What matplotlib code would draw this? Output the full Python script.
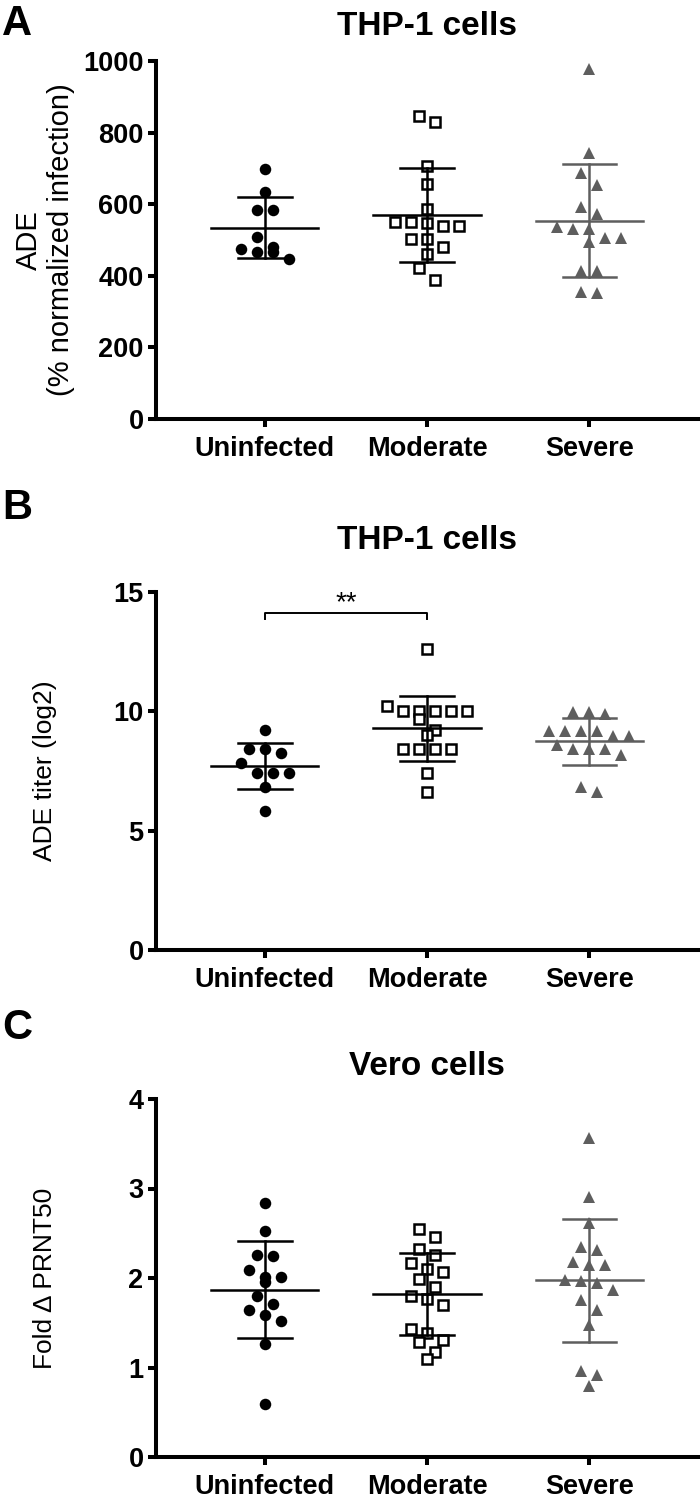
import numpy as np
import matplotlib
matplotlib.use('Agg')
import matplotlib.pyplot as plt

plt.rcParams['font.family'] = ['Liberation Sans', 'DejaVu Sans']

groups = ['Uninfected', 'Moderate', 'Severe']

# Panel A - THP-1 cells, ADE (% normalized infection)
ade_uninfected = [697, 635, 584, 584, 509, 480, 474, 466, 466, 446]
ade_moderate = [847, 829, 708, 656, 586, 551, 549, 547, 540, 540, 502, 502, 481, 461, 421, 388]
ade_severe = [977, 744, 686, 654, 593, 572, 537, 530, 530, 506, 505, 494, 413, 413, 356, 351]

# Panel B - THP-1 cells, ADE titer (log2)
titer_uninfected = [9.22, 8.42, 8.42, 8.24, 7.85, 7.43, 7.43, 7.43, 6.84, 5.84]
titer_moderate = [12.6, 10.22, 10.01, 10.01, 10.01, 10.01, 10.01, 9.68, 9.22, 9.01,
                  8.42, 8.42, 8.42, 8.42, 7.43, 6.63]
titer_severe = [9.98, 9.98, 9.89, 9.17, 9.17, 9.17, 9.17, 8.97, 8.97, 8.59,
                8.41, 8.41, 8.41, 8.17, 6.82, 6.61]

# Panel C - Vero cells, fold change PRNT50
prnt_uninfected = [2.84, 2.53, 2.26, 2.25, 2.09, 2.01, 2.01, 1.95, 1.80, 1.71,
                   1.64, 1.59, 1.52, 1.26, 0.59]
prnt_moderate = [2.55, 2.46, 2.32, 2.26, 2.17, 2.10, 2.07, 1.99, 1.90, 1.80,
                 1.77, 1.70, 1.43, 1.39, 1.31, 1.28, 1.17, 1.09]
prnt_severe = [3.56, 2.91, 2.61, 2.35, 2.31, 2.18, 2.15, 2.15, 1.98, 1.97,
               1.94, 1.87, 1.75, 1.64, 1.47, 0.96, 0.92, 0.79]

GRAY = '#5e5e5e'
styles = [
    dict(marker='o', ms=8.3, mfc='black', mec='black', mew=0, line='black'),
    dict(marker='s', ms=7.2, mfc='white', mec='black', mew=1.8, line='black'),
    dict(marker='^', ms=9, mfc=GRAY, mec=GRAY, mew=0, line=GRAY),
]


def swarm_offsets(ax, values, spacing_px=16, row_px=12):
    # group points into rows by pixel height, then spread each row evenly
    ypx = ax.transData.transform([(0, v) for v in values])[:, 1]
    order = np.argsort(-ypx, kind='stable')
    rows, row = [], [order[0]]
    for idx in order[1:]:
        if abs(ypx[row[0]] - ypx[idx]) < row_px:
            row.append(idx)
        else:
            rows.append(row)
            row = [idx]
    rows.append(row)
    offs = np.zeros(len(values))
    for r in rows:
        n = len(r)
        for k, idx in enumerate(r):
            offs[idx] = (k - (n - 1) / 2) * spacing_px
    unit = ax.transData.transform((1, 0))[0] - ax.transData.transform((0, 0))[0]
    return offs / unit


def draw_panel(ax, series, ylim, yticks):
    ax.set_xlim(-0.67, 2.67)
    ax.set_ylim(*ylim)
    for i, (vals, st) in enumerate(zip(series, styles)):
        vals = np.asarray(vals, dtype=float)
        xs = i + swarm_offsets(ax, vals)
        ax.plot(xs, vals, linestyle='none', marker=st['marker'], ms=st['ms'],
                mfc=st['mfc'], mec=st['mec'], mew=st['mew'], zorder=3, clip_on=False)
        m, sd = vals.mean(), vals.std(ddof=1)
        lw = 1.8
        ax.plot([i - 0.33, i + 0.33], [m, m], color=st['line'], lw=lw, zorder=4)
        ax.plot([i, i], [m - sd, m + sd], color=st['line'], lw=lw, zorder=4)
        for y in (m - sd, m + sd):
            ax.plot([i - 0.165, i + 0.165], [y, y], color=st['line'], lw=lw, zorder=4)
    ax.set_xticks(range(len(groups)))
    ax.set_xticklabels(groups, fontweight='bold', fontsize=19.5)
    ax.set_yticks(yticks)
    ax.set_yticklabels([str(t) for t in yticks], fontweight='bold', fontsize=19.5)
    for s in ('top', 'right'):
        ax.spines[s].set_visible(False)
    for s in ('left', 'bottom'):
        ax.spines[s].set_linewidth(2.9)
    ax.tick_params(axis='both', width=2.9, length=6, direction='out')
    ax.tick_params(axis='x', pad=6)
    ax.tick_params(axis='y', pad=3)


fig = plt.figure(figsize=(7, 14.99), dpi=100)
H = 1499.0
left, width = 156 / 700, 542 / 700
ax_a = fig.add_axes([left, (H - 419) / H, width, 358 / H])
ax_b = fig.add_axes([left, (H - 950) / H, width, 358 / H])
ax_c = fig.add_axes([left, (H - 1457) / H, width, 358 / H])

draw_panel(ax_a, [ade_uninfected, ade_moderate, ade_severe], (0, 1000), [0, 200, 400, 600, 800, 1000])
draw_panel(ax_b, [titer_uninfected, titer_moderate, titer_severe], (0, 15), [0, 5, 10, 15])
draw_panel(ax_c, [prnt_uninfected, prnt_moderate, prnt_severe], (0, 4), [0, 1, 2, 3, 4])

ax_a.set_title('THP-1 cells', fontsize=24, fontweight='bold', pad=19)
ax_b.set_title('THP-1 cells', fontsize=24, fontweight='bold', pad=31)
ax_c.set_title('Vero cells', fontsize=24, fontweight='bold', pad=17)

# significance bracket between Uninfected and Moderate
ax_b.plot([0, 0, 1, 1], [13.85, 14.1, 14.1, 13.85], color='black', lw=1.4, clip_on=False)
ax_b.text(0.5, 14.25, '**', ha='center', va='baseline', fontsize=20)

# y-axis labels
fig.text(45 / 700, (H - 240) / H, 'ADE\n(% normalized infection)', rotation=90,
         ha='center', va='center', fontsize=21, multialignment='center', linespacing=1.15)
fig.text(45 / 700, (H - 771) / H, 'ADE titer (log2)', rotation=90,
         ha='center', va='center', fontsize=19)
fig.text(45 / 700, (H - 1278) / H, 'Fold \u0394 PRNT50', rotation=90,
         ha='center', va='center', fontsize=19)

# panel letters
for letter, ytop in (('A', 4), ('B', 488), ('C', 1008)):
    fig.text(2 / 700, (H - ytop) / H, letter, fontsize=30, fontweight='bold',
             ha='left', va='top')

fig.savefig('out.png', dpi=100)
